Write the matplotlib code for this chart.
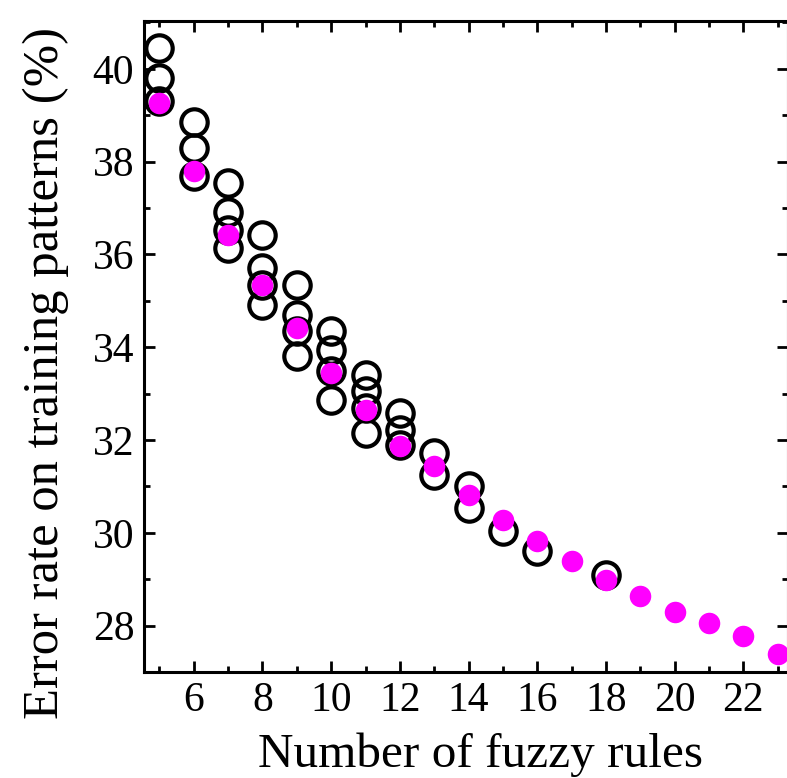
import matplotlib
matplotlib.use("Agg")
import matplotlib.pyplot as plt
from matplotlib.ticker import MultipleLocator

plt.rcParams['font.family'] = ['Liberation Serif', 'DejaVu Serif']

# Open circles: error rates of individual rule sets
rules_open = [5, 5, 5,
              6, 6, 6,
              7, 7, 7, 7,
              8, 8, 8, 8,
              9, 9, 9, 9,
              10, 10, 10, 10,
              11, 11, 11, 11,
              12, 12, 12,
              13, 13,
              14, 14,
              15, 16, 18]
error_open = [40.45, 39.80, 39.30,
              38.86, 38.30, 37.68,
              37.54, 36.92, 36.53, 36.14,
              36.42, 35.70, 35.34, 34.91,
              35.34, 34.70, 34.34, 33.80,
              34.34, 33.94, 33.48, 32.87,
              33.41, 33.05, 32.69, 32.15,
              32.58, 32.22, 31.90,
              31.72, 31.25,
              31.00, 30.53,
              30.03, 29.60, 29.09]

# Filled dots: best error rate for each number of rules
rules_best = [5, 6, 7, 8, 9, 10, 11, 12, 13, 14, 15, 16, 17, 18, 19, 20, 21, 22, 23]
error_best = [39.27, 37.79, 36.42, 35.34, 34.41, 33.44, 32.64, 31.86, 31.43,
              30.82, 30.28, 29.83, 29.40, 28.99, 28.64, 28.29, 28.05, 27.77, 27.39]

x_ticks = [6, 8, 10, 12, 14, 16, 18, 20, 22]
y_ticks = [28, 30, 32, 34, 36, 38, 40]

fig = plt.figure(figsize=(7.87, 7.78), dpi=100)
ax = fig.add_axes([144 / 787, 1 - 672 / 778, (788 - 144) / 787, (672 - 21) / 778])

ax.plot(rules_open, error_open, linestyle='none', marker='o', markersize=19,
        markerfacecolor='none', markeredgecolor='black', markeredgewidth=3.0,
        zorder=3, clip_on=False)
ax.plot(rules_best, error_best, linestyle='none', marker='o', markersize=15.5,
        markerfacecolor='#ff00ff', markeredgecolor='#ff00ff', markeredgewidth=0,
        zorder=4, clip_on=True)

ax.set_xlim(4.55, 23.3)
ax.set_ylim(27.0, 41.03)
ax.set_xticks(x_ticks)
ax.set_yticks(y_ticks)
ax.xaxis.set_minor_locator(MultipleLocator(1))
ax.yaxis.set_minor_locator(MultipleLocator(1))

ax.tick_params(which='both', direction='in', top=True, right=True, width=2,
               labelsize=30, pad=7)
ax.tick_params(which='major', length=8)
ax.tick_params(which='minor', length=4)

for s in ax.spines.values():
    s.set_linewidth(2.2)

ax.set_xlabel('Number of fuzzy rules', fontsize=35.5, labelpad=9)
ax.set_ylabel('Error rate on training patterns (%)', fontsize=36.5, labelpad=17)
ax.xaxis.label.set_x(0.523)
ax.yaxis.label.set_y(0.459)

fig.savefig('out.png', dpi=100)
